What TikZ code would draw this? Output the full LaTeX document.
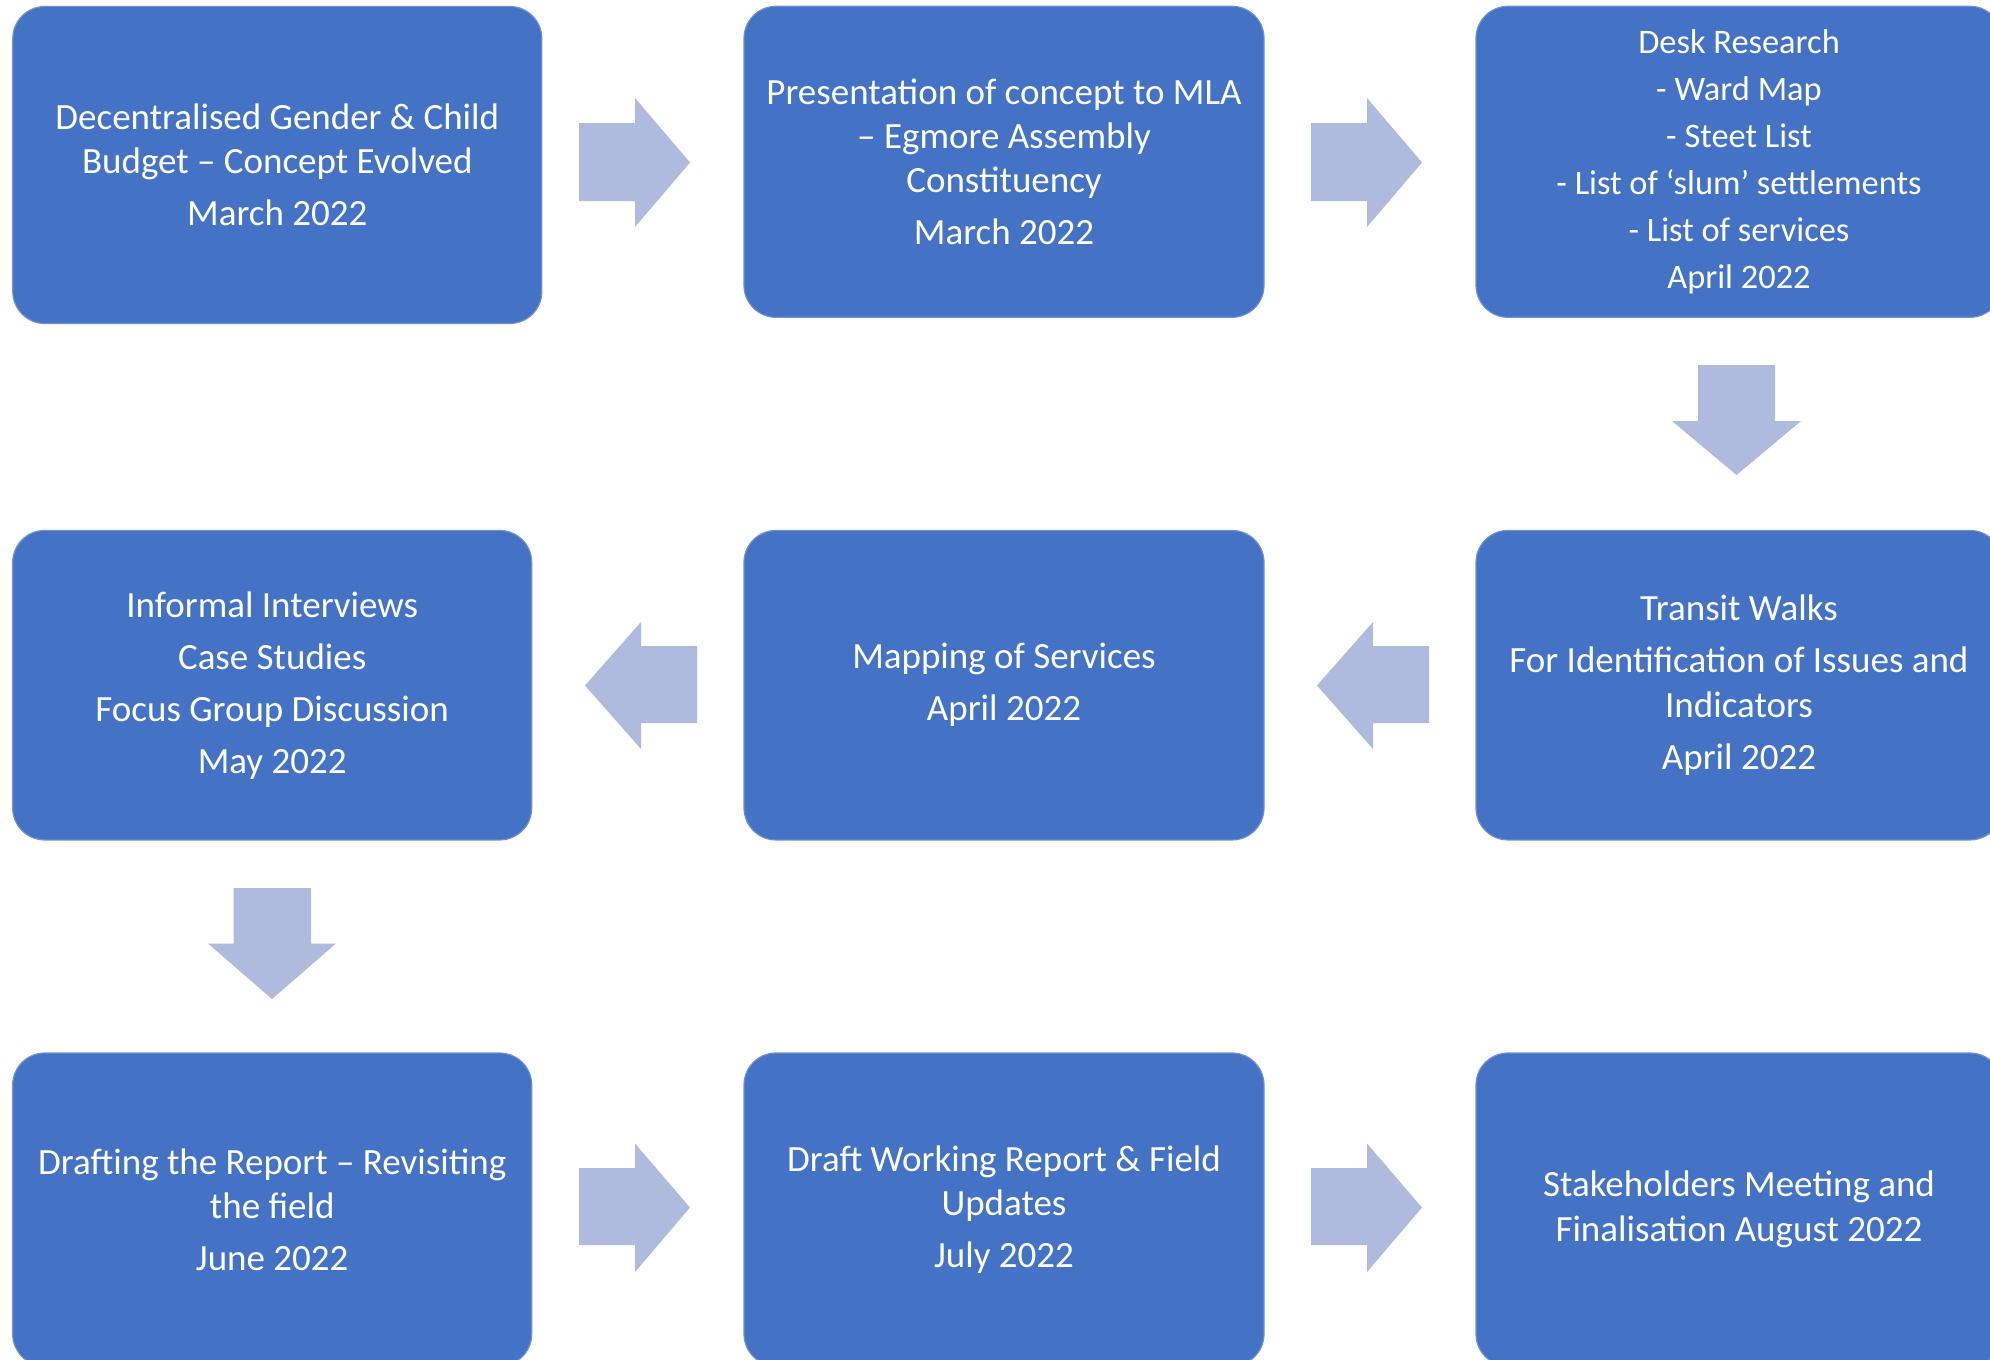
\documentclass[tikz,border=0pt]{standalone}
\usepackage{fontspec}
\setmainfont{Carlito}
\definecolor{boxblue}{RGB}{68,114,196}
\definecolor{boxedge}{RGB}{110,145,210}
\definecolor{arrowblue}{RGB}{174,186,222}
\begin{document}
\begin{tikzpicture}[x=1pt,y=-1pt,
  stage/.style={fill=boxblue, draw=boxedge, line width=1.2pt, rounded corners=32pt,
    text=white, align=center, inner sep=0pt,
    font=\fontsize{37}{44.4}\selectfont},
  smalltxt/.style={font=\fontsize{34.4}{41.3}\selectfont},
  blockarrow/.style={fill=arrowblue, draw=none}]
\useasboundingbox (0,0) rectangle (1990,1360);
\fill[white] (0,0) rectangle (1990,1360);

% row 1
\node[stage, minimum width=529pt, minimum height=317pt] (b1) at (277.3,165)
  {Decentralised Gender \& Child\\Budget – Concept Evolved\\[7.6pt]March 2022};
\node[stage, minimum width=520pt, minimum height=311pt] (b2) at (1004,161.8)
  {Presentation of concept to MLA\\– Egmore Assembly\\Constituency\\[7.6pt]March 2022};
\node[stage, smalltxt, minimum width=526pt, minimum height=311pt] (b3) at (1739,161.8)
  {Desk Research\\[5.7pt]- Ward Map\\[5.7pt]- Steet List\\[5.7pt]- List of ‘slum’ settlements\\[5.7pt]- List of services\\[5.7pt]April 2022};

% row 2
\node[stage, minimum width=519pt, minimum height=309.5pt] (b4) at (272.2,685.2)
  {Informal Interviews\\[7.6pt]Case Studies\\[7.6pt]Focus Group Discussion\\[7.6pt]May 2022};
\node[stage, minimum width=520pt, minimum height=309.5pt] (b5) at (1004,685.2)
  {Mapping of Services\\[7.6pt]April 2022};
\node[stage, minimum width=526pt, minimum height=309.5pt] (b6) at (1739,685.2)
  {Transit Walks\\[7.6pt]For Identification of Issues and\\Indicators\\[7.6pt]April 2022};

% row 3
\node[stage, minimum width=519pt, minimum height=313pt] (b7) at (272.2,1209.5)
  {Drafting the Report – Revisiting\\the field\\[7.6pt]June 2022};
\node[stage, minimum width=520pt, minimum height=313pt] (b8) at (1004,1209.5)
  {Draft Working Report \& Field\\Updates\\[7.6pt]July 2022};
\node[stage, minimum width=526pt, minimum height=313pt] (b9) at (1739,1209.5)
  {Stakeholders Meeting and\\Finalisation August 2022};

% block arrows row 1
\fill[blockarrow] (579,123) -- (635,123) -- (635,98) -- (690,162.5) -- (635,227) -- (635,201) -- (579,201) -- cycle;
\fill[blockarrow] (1311,123) -- (1367,123) -- (1367,98) -- (1422,162.5) -- (1367,227) -- (1367,201) -- (1311,201) -- cycle;
% down arrow under b3
\fill[blockarrow] (1698,365) -- (1775,365) -- (1775,421) -- (1801,421) -- (1736.5,475) -- (1672,421) -- (1698,421) -- cycle;
% row 2 left arrows
\fill[blockarrow] (1429,646) -- (1373,646) -- (1373,622) -- (1317,685.5) -- (1373,749) -- (1373,723) -- (1429,723) -- cycle;
\fill[blockarrow] (697,646) -- (641,646) -- (641,622) -- (585,685.5) -- (641,749) -- (641,723) -- (697,723) -- cycle;
% down arrow under b4
\fill[blockarrow] (233.5,888) -- (311,888) -- (311,943.5) -- (336,943.5) -- (272,999) -- (208,943.5) -- (233.5,943.5) -- cycle;
% row 3 arrows
\fill[blockarrow] (579,1168) -- (635,1168) -- (635,1143.5) -- (690,1207.5) -- (635,1272) -- (635,1245) -- (579,1245) -- cycle;
\fill[blockarrow] (1311,1168) -- (1367,1168) -- (1367,1143.5) -- (1422,1207.5) -- (1367,1272) -- (1367,1245) -- (1311,1245) -- cycle;
\end{tikzpicture}
\end{document}
